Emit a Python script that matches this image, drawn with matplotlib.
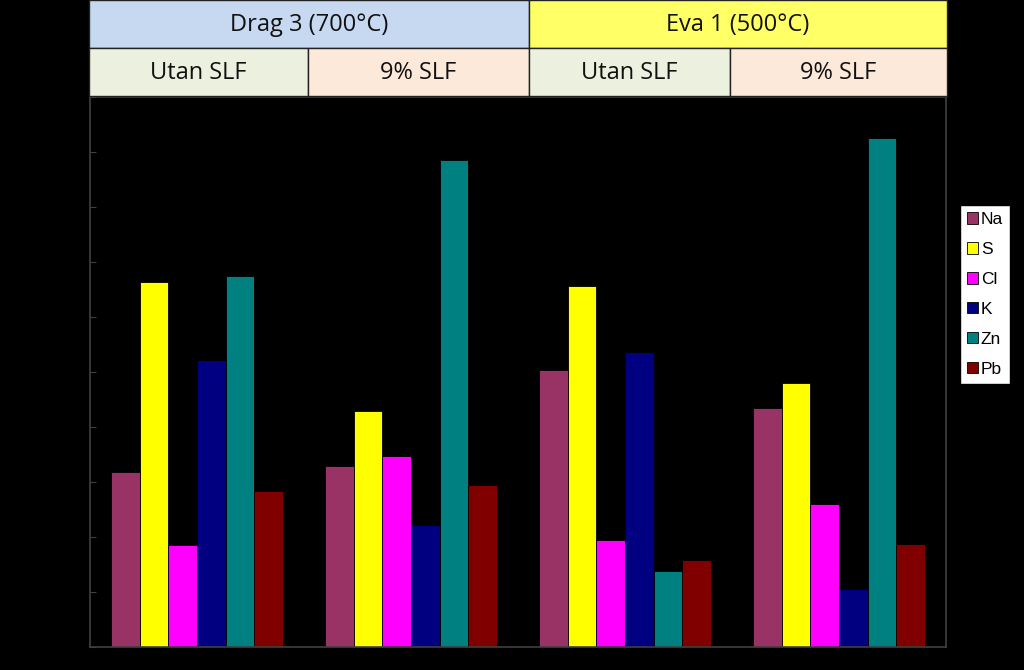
import numpy as np
import matplotlib.pyplot as plt

# 4 groups: Drag 3 utan/9% SLF, Eva 1 utan/9% SLF
groups = ['Drag 3 utan SLF', 'Drag 3 9% SLF', 'Eva 1 utan SLF', 'Eva 1 9% SLF']
elements = ['Na', 'S', 'Cl', 'K', 'Zn', 'Pb']
colors = ['#993366', '#ffff00', '#ff00ff', '#000080', '#008080', '#800000']

na = [3.18, 3.29, 5.04, 4.35]
s = [6.64, 4.29, 6.56, 4.80]
cl = [1.85, 3.47, 1.95, 2.60]
k = [5.22, 2.22, 5.36, 1.05]
zn = [6.75, 8.86, 1.38, 9.26]
pb = [2.84, 2.95, 1.58, 1.87]
values = [na, s, cl, k, zn, pb]

top_labels = ['Drag 3 (700°C)', 'Eva 1 (500°C)']
sub_labels = ['Utan SLF', '9% SLF', 'Utan SLF', '9% SLF']

W, H = 1024, 670
fig = plt.figure(figsize=(W / 100, H / 100), dpi=100, facecolor='black')

# main bar axes (pixel layout -> figure fractions)
ax = fig.add_axes([90 / W, 1 - 647 / H, (946 - 90) / W, (647 - 97) / H])
ax.set_facecolor('black')
x = np.arange(len(groups))
bw = 0.8 / len(elements)
for i, (el, col) in enumerate(zip(elements, colors)):
    ax.bar(x - 0.4 + bw * (i + 0.5), values[i], width=bw, color=col,
           edgecolor='black', linewidth=0.6, label=el)
ax.set_xlim(-0.5, len(groups) - 0.5)
ax.set_ylim(0, 10)
ax.set_yticks(np.arange(0, 11, 1))
ax.set_xticks([])
ax.tick_params(axis='y', colors='#404040', labelcolor='black', length=4, direction='in')
for sp in ['left', 'bottom', 'top', 'right']:
    ax.spines[sp].set_color('#404040')
    ax.spines[sp].set_linewidth(1.2)

leg = fig.legend(loc='upper left', bbox_to_anchor=(960 / W, 1 - 205 / H),
                 frameon=True, fancybox=False, edgecolor='black', framealpha=1,
                 prop={'family': 'Liberation Sans', 'size': 12.5},
                 handlelength=0.65, handleheight=0.65, handletextpad=0.15,
                 labelspacing=0.86, borderpad=0.4, borderaxespad=0)
leg.get_frame().set_facecolor('white')

# header table
hx = fig.add_axes([0, 0, 1, 1])
hx.set_xlim(0, W)
hx.set_ylim(H, 0)
hx.axis('off')
top_cells = [(89, 529, '#c6d9f1'), (529, 947, '#ffff66')]
sub_cells = [(89, 308, '#ebf1de'), (308, 529, '#fde9d9'),
             (529, 730, '#ebf1de'), (730, 947, '#fde9d9')]
font = ['Open Sans', 'DejaVu Sans']
for (x0, x1, c), lab in zip(top_cells, top_labels):
    hx.add_patch(plt.Rectangle((x0, 0), x1 - x0, 48, facecolor=c,
                               edgecolor='#222222', linewidth=1))
    hx.text((x0 + x1) / 2, 25, lab, ha='center', va='center', fontsize=17,
            color='#111111', family=font)
for (x0, x1, c), lab in zip(sub_cells, sub_labels):
    hx.add_patch(plt.Rectangle((x0, 48), x1 - x0, 48, facecolor=c,
                               edgecolor='#222222', linewidth=1))
    hx.text((x0 + x1) / 2, 73, lab, ha='center', va='center', fontsize=17,
            color='#111111', family=font)

fig.savefig('out.png', dpi=100, facecolor='black')
